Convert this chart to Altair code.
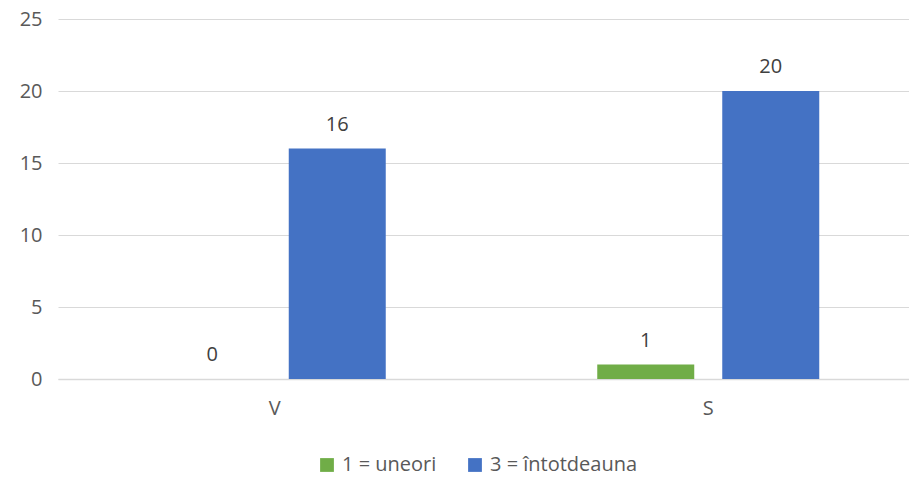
import altair as alt
import pandas as pd

categories = ["V", "S"]
series = ["1 = uneori", "3 = întotdeauna"]
values_uneori = [0, 1]
values_intotdeauna = [16, 20]
colors = ["#70AD47", "#4472C4"]

rows = []
for i, c in enumerate(categories):
    rows.append({"cat": c, "serie": series[0], "val": values_uneori[i]})
    rows.append({"cat": c, "serie": series[1], "val": values_intotdeauna[i]})
df = pd.DataFrame(rows)

FONT = "Open Sans"
TXT = "#595959"
FS = 20

x = alt.X("cat:N", sort=categories, title=None,
          scale=alt.Scale(paddingInner=0, paddingOuter=0, range=[0, 867]),
          axis=alt.Axis(labelAngle=0, ticks=False, domainColor="#D9D9D9", domainWidth=1.5,
                        labelFont=FONT, labelFontSize=FS, labelColor=TXT, labelPadding=19))
xoff = alt.XOffset("serie:N", sort=series,
                   scale=alt.Scale(paddingInner=0.224, paddingOuter=0.846))
y = alt.Y("val:Q", title=None,
          scale=alt.Scale(domain=[0, 25], nice=False),
          axis=alt.Axis(values=[0, 5, 10, 15, 20, 25], ticks=False, domain=False,
                        gridColor="#D9D9D9", gridWidth=1,
                        labelFont=FONT, labelFontSize=FS, labelColor=TXT, labelPadding=16))

base = alt.Chart(df).encode(x=x, xOffset=xoff)

bars = base.mark_bar().encode(
    y=y,
    color=alt.Color("serie:N", sort=series,
                    scale=alt.Scale(domain=series, range=colors),
                    legend=alt.Legend(title=None, orient="none", direction="horizontal",
                                      legendX=259, legendY=436,
                                      symbolType="square", symbolSize=190, symbolStrokeWidth=0,
                                      labelFont=FONT, labelFontSize=FS, labelColor=TXT,
                                      columnPadding=28, labelOffset=5)),
)

labels = base.mark_text(baseline="middle", dy=-24, font=FONT, fontSize=FS, color="#404040").encode(
    y=alt.Y("val:Q"),
    text=alt.Text("val:Q"),
)

chart = alt.layer(bars, labels).properties(
    width=851, height=360,
    autosize=alt.AutoSizeParams(type="none"),
    padding={"left": 50, "top": 11, "right": 0, "bottom": 100},
).configure_view(stroke=None)

chart.save("out.html", embed_options={"renderer": "svg", "actions": False})
